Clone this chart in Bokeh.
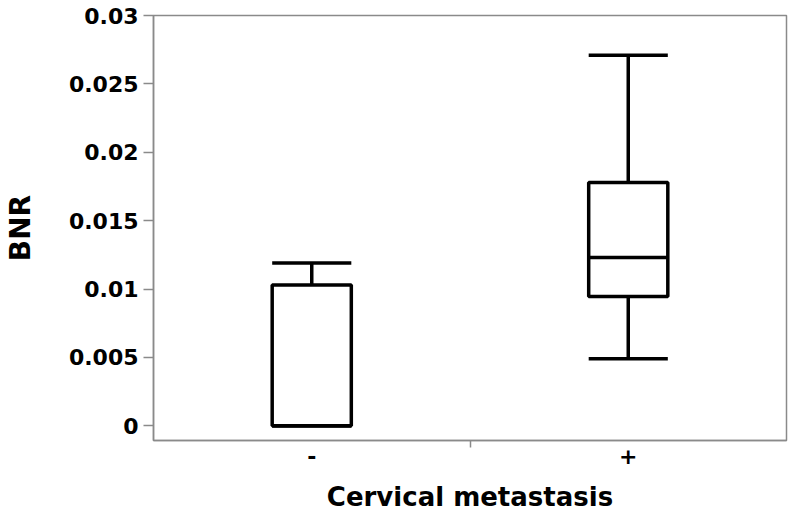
from bokeh.plotting import figure
from bokeh.models import Range1d, FixedTicker, CustomJSTickFormatter, ColumnDataSource
from bokeh.embed import file_html
from bokeh.resources import INLINE

# ---- data ----
categories = ["-", "+"]
lower = [0.0, 0.0049]
q1 = [0.0, 0.00945]
median = [0.0, 0.0123]
q3 = [0.0103, 0.0178]
upper = [0.0119, 0.0271]
y_ticks = [0, 0.005, 0.01, 0.015, 0.02, 0.025, 0.03]
x_title = "Cervical metastasis"
y_title = "BNR"

BOX_W = 0.25
FONT = "DejaVu Sans"
GRAY = "#8a8a8a"

xc = [i + 0.5 for i in range(len(categories))]
src = ColumnDataSource(dict(
    x=xc,
    x0=[x - BOX_W / 2 for x in xc],
    x1=[x + BOX_W / 2 for x in xc],
    lower=lower, q1=q1, median=median, q3=q3, upper=upper,
))

p = figure(width=789, height=515, output_backend="svg", toolbar_location=None,
           x_range=Range1d(0, len(categories)), y_range=Range1d(-0.00107, 0.03),
           min_border_left=152, min_border_right=3, min_border_top=15, min_border_bottom=75)

p.background_fill_color = "white"
p.outline_line_color = GRAY
p.outline_line_width = 1.5
p.xgrid.visible = False
p.ygrid.visible = False

# whiskers
p.segment(x0="x", y0="q3", x1="x", y1="upper", source=src, line_color="black", line_width=3.5)
p.segment(x0="x", y0="q1", x1="x", y1="lower", source=src, line_color="black", line_width=3.5)
# caps
p.segment(x0="x0", y0="upper", x1="x1", y1="upper", source=src, line_color="black", line_width=3.5)
p.segment(x0="x0", y0="lower", x1="x1", y1="lower", source=src, line_color="black", line_width=3.5)
# boxes
p.vbar(x="x", width=BOX_W, bottom="q1", top="q3", source=src,
       fill_color="white", line_color="black", line_width=3.5)
# median
p.segment(x0="x0", y0="median", x1="x1", y1="median", source=src, line_color="black", line_width=3.5)

# y axis
ya = p.yaxis[0]
ya.ticker = FixedTicker(ticks=y_ticks)
ya.formatter = CustomJSTickFormatter(code="return String(parseFloat(tick.toFixed(4)));")
ya.axis_label = y_title
ya.axis_label_text_font = FONT
ya.axis_label_text_font_style = "bold"
ya.axis_label_text_font_size = "28px"
ya.axis_label_text_color = "black"
ya.axis_label_standoff = 29
ya.major_label_text_font = FONT
ya.major_label_text_font_style = "bold"
ya.major_label_text_font_size = "22px"
ya.major_label_text_color = "black"
ya.major_label_standoff = 5
ya.axis_line_color = GRAY
ya.axis_line_width = 1.5
ya.major_tick_line_color = GRAY
ya.major_tick_line_width = 1.5
ya.major_tick_out = 10
ya.major_tick_in = 0
ya.minor_tick_line_color = None

# x axis
xa = p.xaxis[0]
xa.ticker = FixedTicker(ticks=xc, minor_ticks=[1])
xa.formatter = CustomJSTickFormatter(args=dict(cats=categories),
                                     code="return cats[Math.floor(tick)];")
xa.axis_label = x_title
xa.axis_label_text_font = FONT
xa.axis_label_text_font_style = "bold"
xa.axis_label_text_font_size = "26px"
xa.axis_label_text_color = "black"
xa.axis_label_standoff = 15
xa.major_label_text_font = FONT
xa.major_label_text_font_style = "bold"
xa.major_label_text_font_size = "22px"
xa.major_label_text_color = "black"
xa.major_label_standoff = 0
xa.axis_line_color = GRAY
xa.axis_line_width = 1.5
xa.major_tick_line_color = None
xa.major_tick_out = 0
xa.major_tick_in = 0
xa.minor_tick_line_color = GRAY
xa.minor_tick_line_width = 1.5
xa.minor_tick_out = 7
xa.minor_tick_in = 0

open("out.html", "w").write(file_html(p, INLINE))
